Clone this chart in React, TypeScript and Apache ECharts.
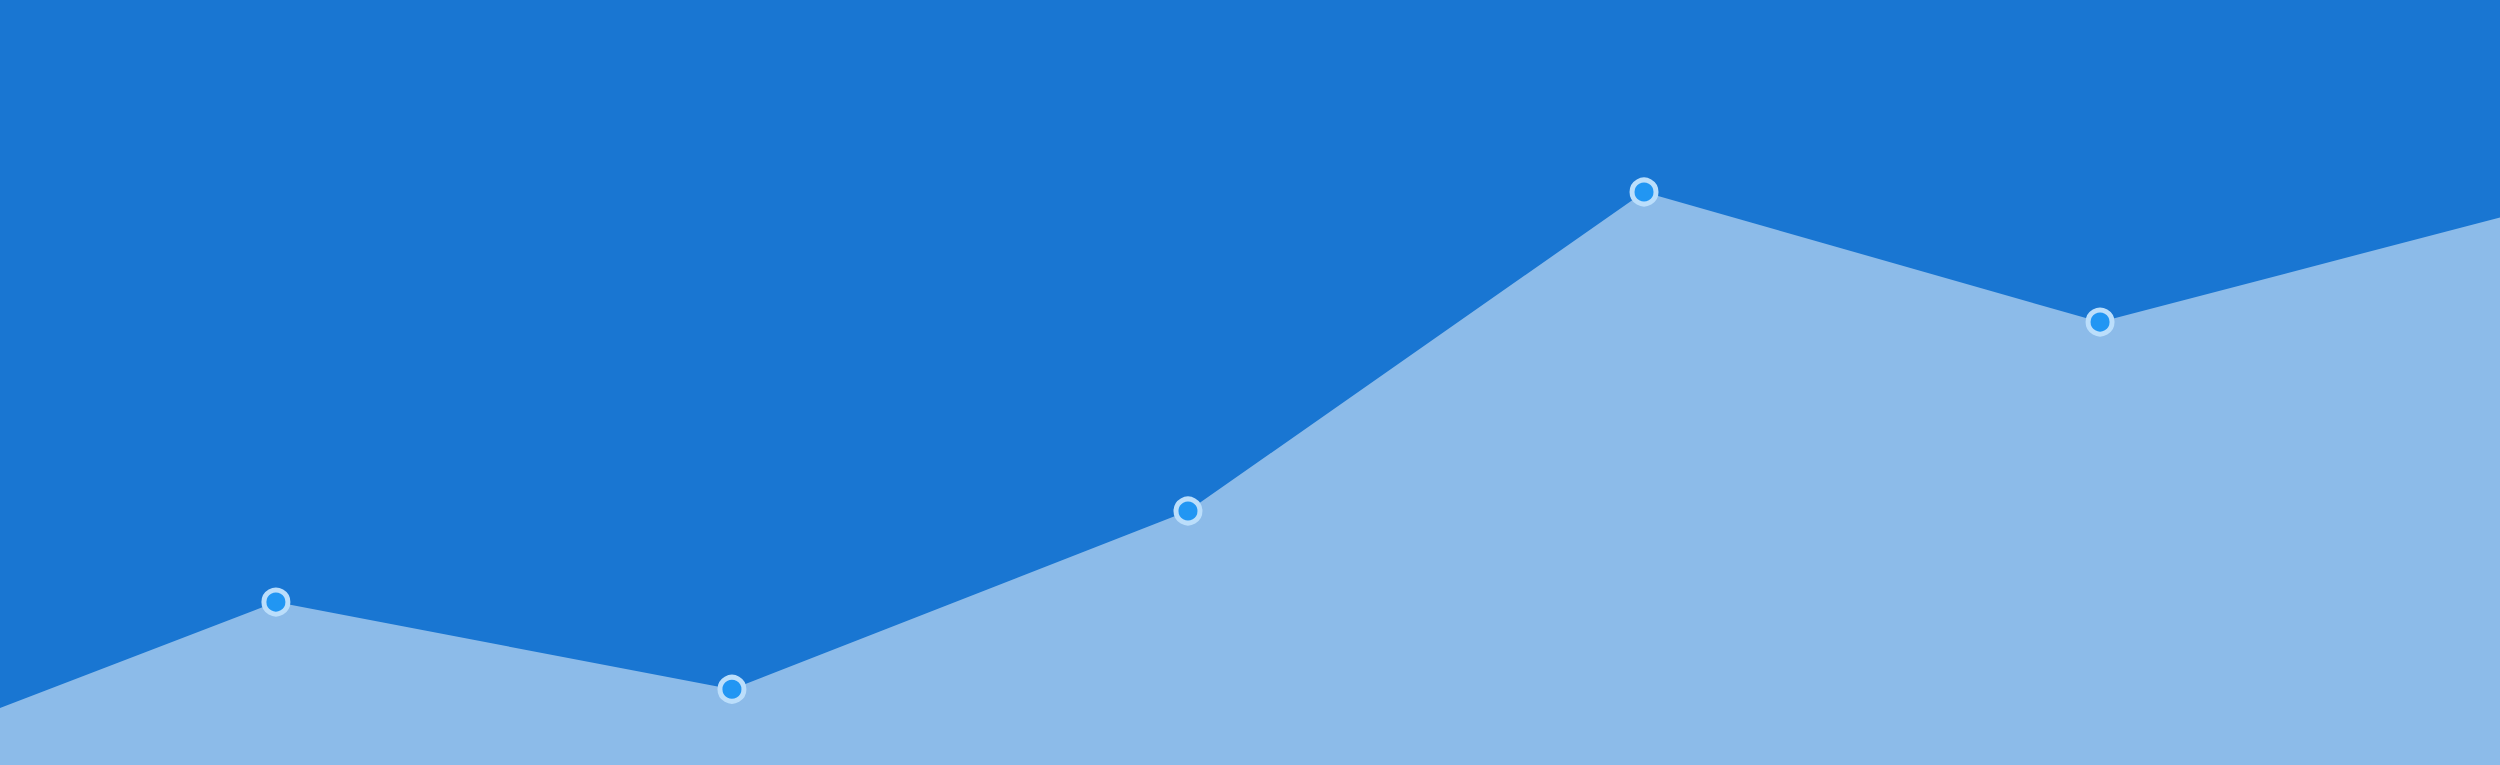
import React, { useEffect, useRef } from "react";
import * as echarts from "echarts";

// seven points at x = 0..6; the first and last sit just outside the visible window
const positions = [0, 1, 2, 3, 4, 5, 6];
const values = [-1.6, 21.3, 9.9, 33.2, 74.9, 57.9, 73.5];
const xWindow = [0.395, 5.877];

const App: React.FC = () => {
  const chartRef = useRef<HTMLDivElement>(null);

  useEffect(() => {
    if (!chartRef.current) return;
    const chart = echarts.init(chartRef.current, null, { renderer: "svg" });

    const option = {
      animation: false,
      backgroundColor: "#1976d2",
      grid: { left: 0, right: 0, top: 0, bottom: 0 },
      xAxis: {
        type: "value",
        min: xWindow[0],
        max: xWindow[1],
        show: false,
      },
      yAxis: {
        type: "value",
        min: 0,
        max: 100,
        show: false,
      },
      series: [
        {
          name: "Trend",
          type: "line",
          data: positions.map((x, i) => [x, values[i]]),
          clip: true,
          symbol: "circle",
          symbolSize: 24,
          itemStyle: {
            color: "#2196f3",
            borderColor: "#bbdefb",
            borderWidth: 5,
          },
          lineStyle: { width: 0, opacity: 0 },
          areaStyle: { color: "#ffffff", opacity: 0.5 },
        },
      ],
    };

    chart.setOption(option);
    const onResize = () => chart.resize();
    window.addEventListener("resize", onResize);

    return () => {
      window.removeEventListener("resize", onResize);
      chart.dispose();
    };
  }, []);

  return (
    <div
      ref={chartRef}
      style={{ position: "fixed", left: 0, top: 0, width: "2500px", height: "765px" }}
    />
  );
};

export default App;
